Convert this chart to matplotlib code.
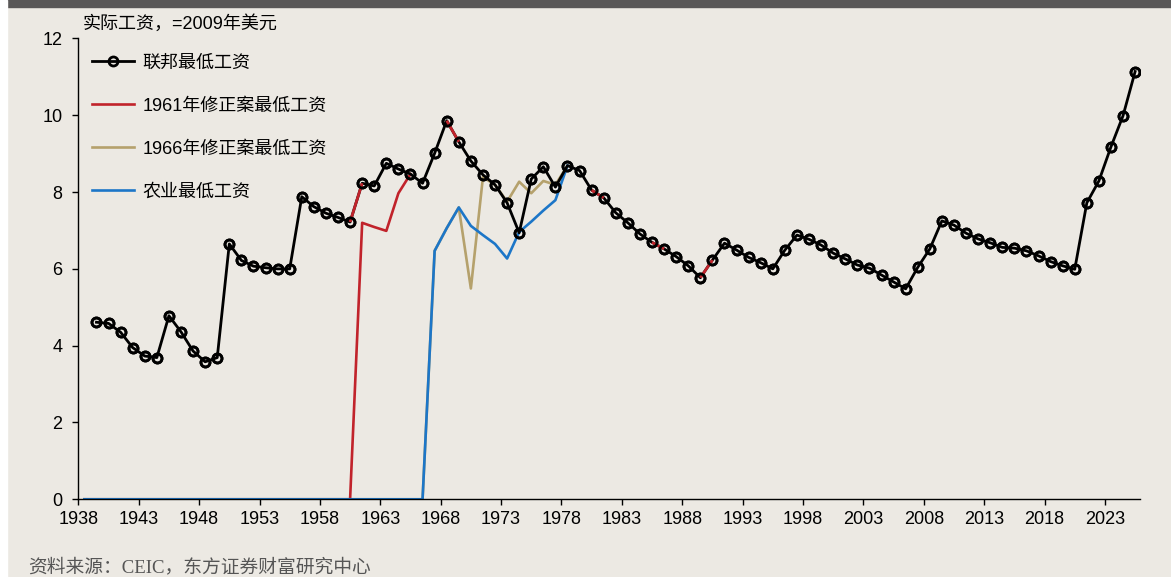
import numpy as np
import matplotlib
matplotlib.use("Agg")
import matplotlib.pyplot as plt
from matplotlib.patches import Rectangle

plt.rcParams['font.family'] = ['Liberation Sans', 'Noto Sans CJK SC']

# 联邦最低工资 (1939-2025)
fed_years = np.arange(1939, 2026)
fed_wage = [4.61, 4.58, 4.35, 3.95, 3.73, 3.69, 4.78, 4.36, 3.86, 3.58,
            3.69, 6.65, 6.22, 6.07, 6.03, 6.00, 6.00, 7.88, 7.62, 7.45,
            7.34, 7.22, 8.23, 8.16, 8.75, 8.60, 8.47, 8.23, 9.01, 9.86,
            9.31, 8.81, 8.45, 8.19, 7.72, 6.94, 8.34, 8.66, 8.13, 8.69,
            8.56, 8.05, 7.85, 7.46, 7.20, 6.91, 6.69, 6.52, 6.32, 6.08,
            5.77, 6.23, 6.67, 6.49, 6.30, 6.16, 6.00, 6.49, 6.88, 6.77,
            6.62, 6.41, 6.26, 6.10, 6.02, 5.84, 5.66, 5.48, 6.04, 6.52,
            7.25, 7.14, 6.93, 6.78, 6.68, 6.56, 6.54, 6.47, 6.34, 6.19,
            6.08, 5.99, 7.72, 8.29, 9.18, 9.99, 11.14]

# segments of the federal line drawn in red (start year of each segment)
red_segment_starts = [1960, 1968, 1980, 1985, 1989]

# 1961年修正案最低工资 (1938-1965)
amd61_years = np.arange(1938, 1966)
amd61_wage = [0.0] * 23 + [7.20, 7.09, 6.99, 7.97, 8.47]

# 1966年修正案最低工资 (1938-1978)
amd66_years = np.arange(1938, 1979)
amd66_wage = [0.0] * 29 + [6.47, 7.06, 7.60, 5.49, 8.39, 8.19, 7.75,
                           8.27, 7.97, 8.29, 8.19, 8.69]

# 农业最低工资 (1938-1978)
farm_years = np.arange(1938, 1979)
farm_wage = [0.0] * 29 + [6.47, 7.06, 7.60, 7.12, 6.88, 6.65, 6.27,
                          6.96, 7.23, 7.52, 7.79, 8.69]

tick_years = np.arange(1938, 2024, 5)
y_ticks = [0, 2, 4, 6, 8, 10, 12]

bg = '#ECE9E3'
c_red = '#C1232B'
c_tan = '#B5A16C'
c_blue = '#1C76C8'

fig = plt.figure(figsize=(11.71, 5.77), dpi=100, facecolor=bg)
ax = fig.add_axes([0.0669, 0.1347, 0.9066, 0.7986])
ax.set_facecolor(bg)

# values are mid-year, so shift half a year from the Jan 1 ticks
off = 0.5
ax.plot(amd61_years + off, amd61_wage, color=c_red, lw=1.9, zorder=2,
        label='1961年修正案最低工资')
ax.plot(amd66_years + off, amd66_wage, color=c_tan, lw=1.9, zorder=2.1,
        label='1966年修正案最低工资')
ax.plot(farm_years + off, farm_wage, color=c_blue, lw=1.9, zorder=2.2,
        label='农业最低工资')
fed_line, = ax.plot(fed_years + off, fed_wage, color='black', lw=2.0,
                    marker='o', ms=6.5, mfc='none', mec='black', mew=2.0,
                    zorder=3, label='联邦最低工资')

fed_arr = np.array(fed_wage)
for y0 in red_segment_starts:
    i = y0 - fed_years[0]
    ax.plot(fed_years[i:i + 2] + off, fed_arr[i:i + 2], color=c_red,
            lw=2.0, zorder=3.5, solid_capstyle='butt')
ax.plot(fed_years + off, fed_wage, ls='none', marker='o', ms=6.5,
        mfc='none', mec='black', mew=2.0, zorder=4)

ax.set_xlim(1938, 2025.9)
ax.set_ylim(0, 12)
ax.set_xticks(tick_years)
ax.set_xticklabels([str(y) for y in tick_years])
ax.set_yticks(y_ticks)
ax.tick_params(axis='x', length=4, width=1.0, pad=4.5, labelsize=13,
               colors='black')
ax.tick_params(axis='y', length=4.5, width=1.0, pad=7, labelsize=13,
               colors='black')
for s in ['top', 'right']:
    ax.spines[s].set_visible(False)
for s in ['left', 'bottom']:
    ax.spines[s].set_linewidth(1.0)
    ax.spines[s].set_color('black')

handles = ax.get_legend_handles_labels()[0]
order = [3, 0, 1, 2]
leg = ax.legend([handles[k] for k in order],
                [handles[k].get_label() for k in order],
                loc='upper left', bbox_to_anchor=(0.0129, 0.965),
                frameon=False, fontsize=13, borderpad=0, borderaxespad=0,
                handlelength=2.3, handletextpad=0.5, labelspacing=1.44,
                numpoints=1)

fig.text(83 / 1171, 1 - 24 / 577, '实际工资，=2009年美元', fontsize=13,
         ha='left', va='center', color='black')
fig.text(28 / 1171, 1 - 567 / 577, '资料来源：CEIC，东方证券财富研究中心',
         fontsize=13.5, ha='left', va='center', color='#555555',
         family=['Liberation Serif', 'Noto Sans CJK SC'])

# frame decorations: dark strip on top, white strip on the left
fig.patches.append(Rectangle((7 / 1171, 1 - 7 / 577), 1, 7 / 577,
                             transform=fig.transFigure, color='#595757',
                             zorder=10))
fig.patches.append(Rectangle((0, 0), 7 / 1171, 1,
                             transform=fig.transFigure, color='white',
                             zorder=10))

fig.savefig('out.png', dpi=100, facecolor=bg)
